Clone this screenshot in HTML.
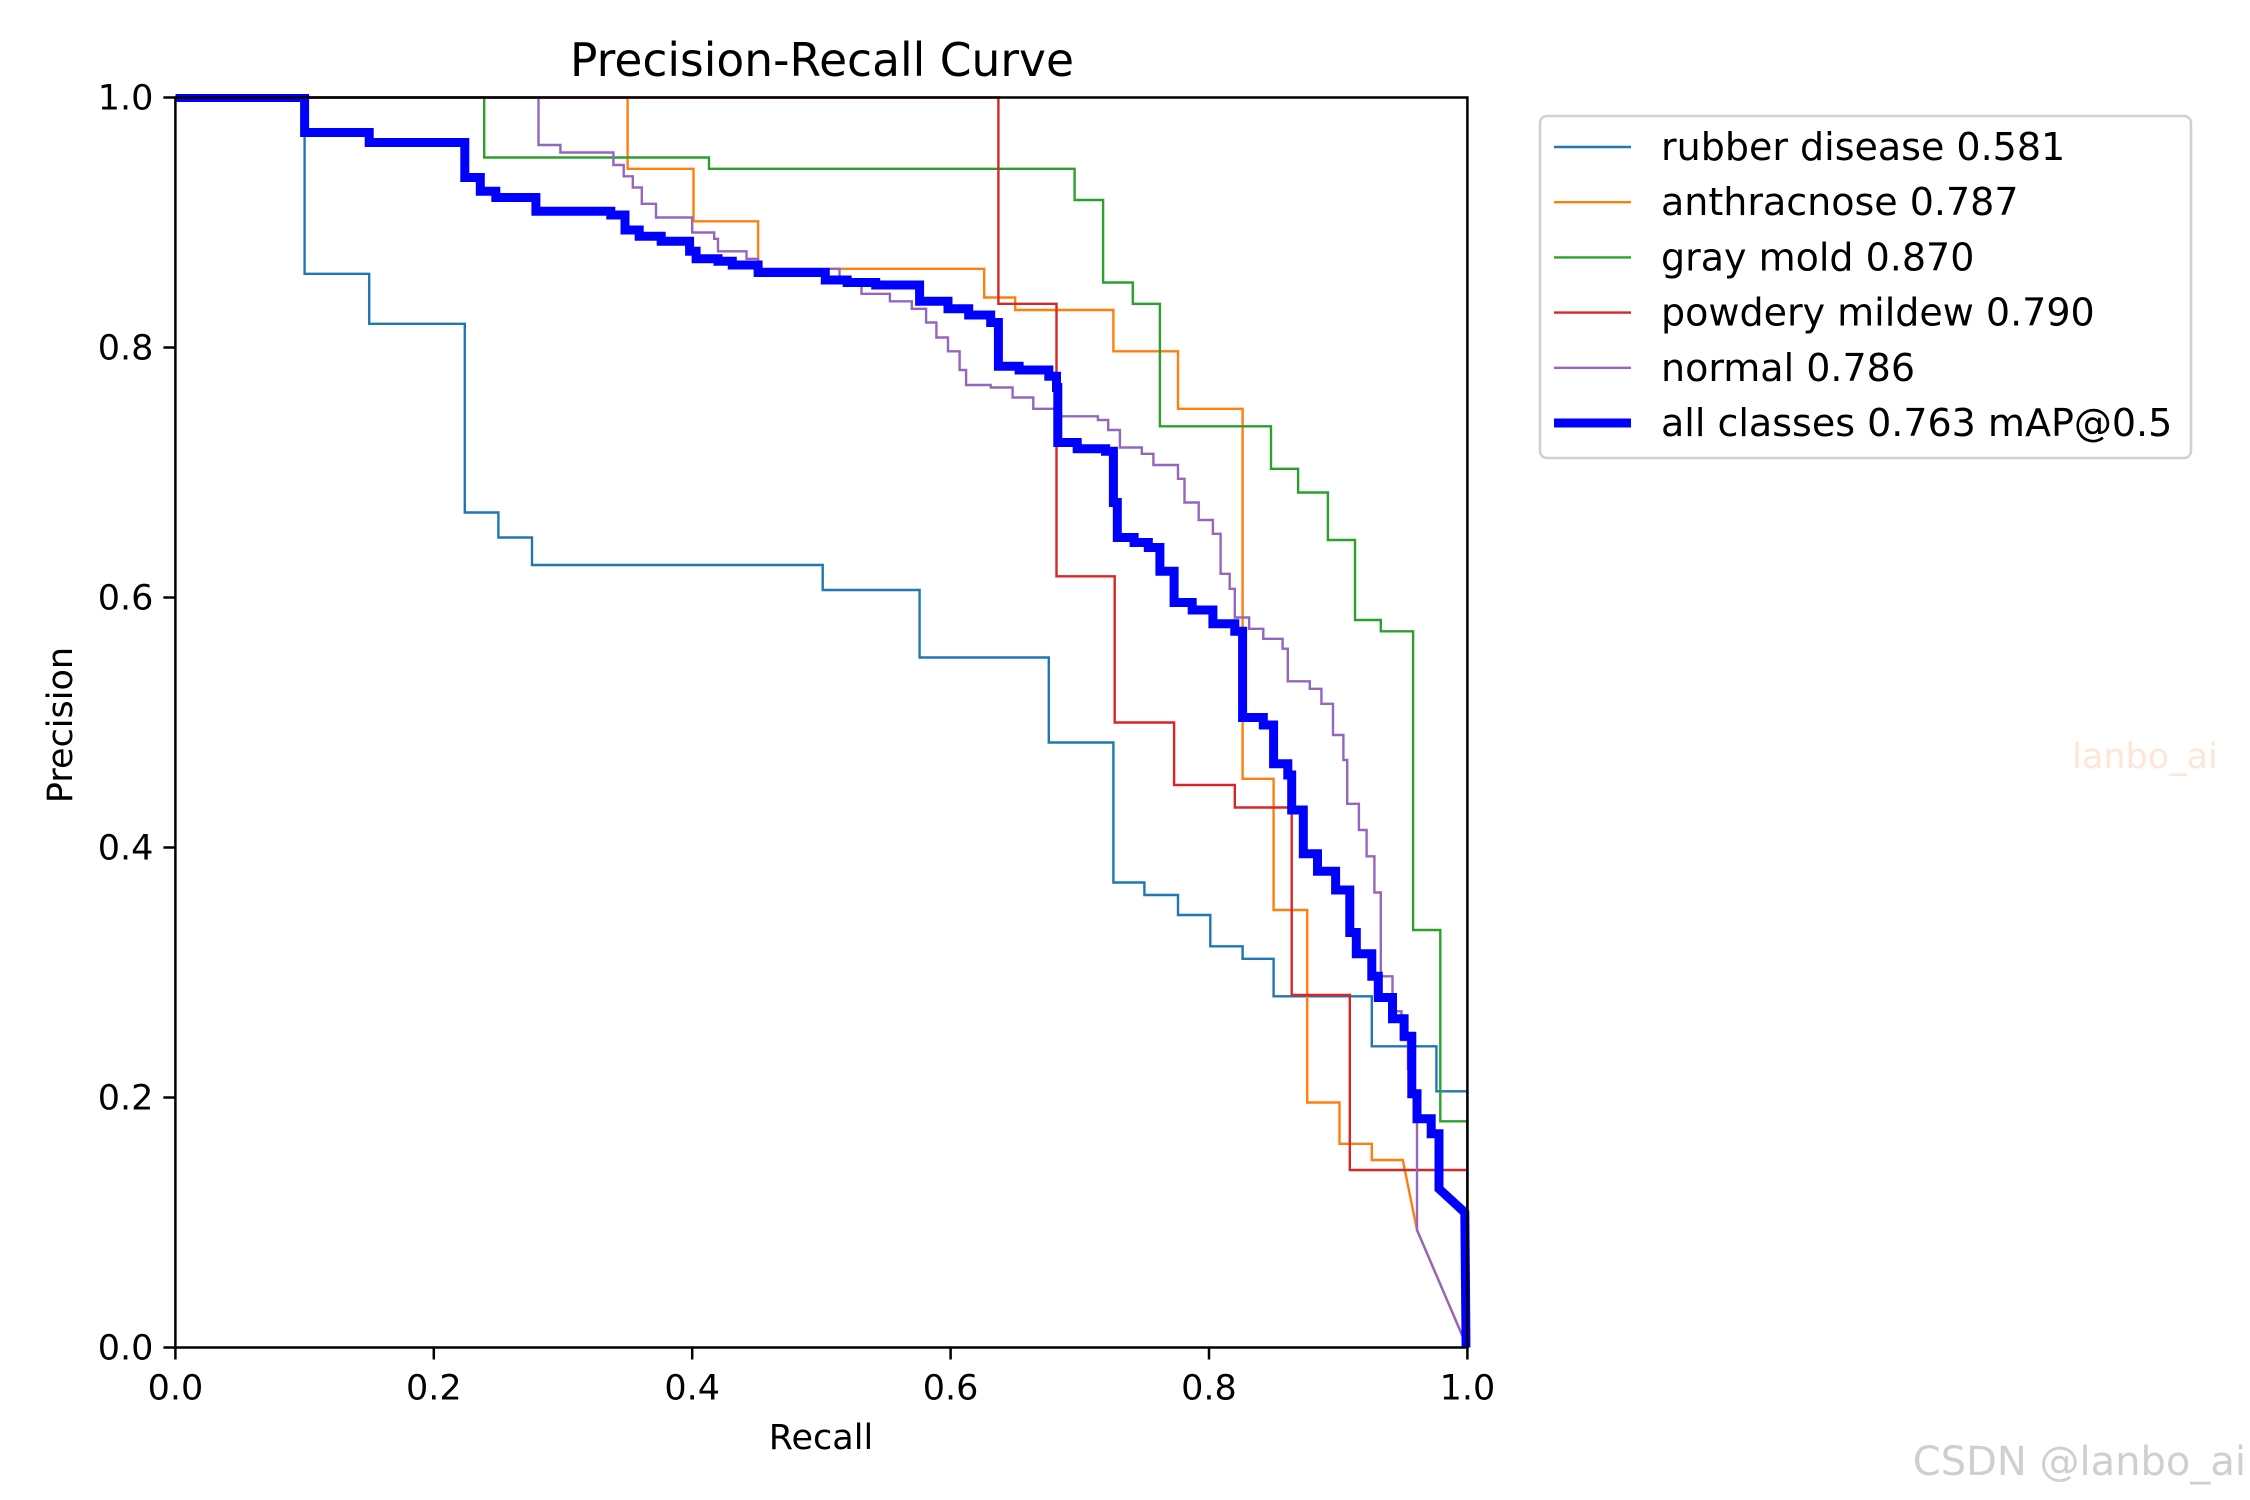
<!DOCTYPE html>
<html><head><meta charset="utf-8"><style>
html,body{margin:0;padding:0;background:#fff;}
svg{display:block;font-family:"DejaVu Sans","Liberation Sans",sans-serif;}
</style></head><body>
<svg id="chart" width="2250" height="1500" viewBox="0 0 2250 1500">
<defs><clipPath id="plotclip"><rect x="175.4" y="94" width="1295" height="1256"/></clipPath></defs>
<rect x="0" y="0" width="2250" height="1500" fill="#fff"/>
<text x="822" y="76" font-size="46" text-anchor="middle" textLength="504" lengthAdjust="spacingAndGlyphs">Precision-Recall Curve</text>
<g id="series" clip-path="url(#plotclip)"></g>
<rect x="175.4" y="97.5" width="1292" height="1250" fill="none" stroke="#000" stroke-width="2.5"/>
<g id="axes"></g>
<text x="821" y="1449" font-size="35" text-anchor="middle">Recall</text>
<text transform="translate(72,725) rotate(-90)" font-size="35" text-anchor="middle">Precision</text>
<g id="legend">
<rect x="1540" y="116" width="651" height="342" rx="7" fill="#fff" fill-opacity="0.8" stroke="#d0d0d0" stroke-width="2.5"/>
</g>
<text x="2145" y="768" font-size="35" text-anchor="middle" fill="#fde6d6">lanbo_ai</text>
<text x="2246" y="1475" font-size="40" text-anchor="end" fill="#cfcfcf">CSDN @lanbo_ai</text>
</svg>
<script>
const xTicks = [0, 0.2, 0.4, 0.6, 0.8, 1.0];
const yTicks = [0, 0.2, 0.4, 0.6, 0.8, 1.0];
const tickLabels = ["0.0", "0.2", "0.4", "0.6", "0.8", "1.0"];
const seriesNames = ["rubber disease 0.581", "anthracnose 0.787", "gray mold 0.870", "powdery mildew 0.790", "normal 0.786", "all classes 0.763 mAP@0.5"];
const seriesColors = ["#1f77b4", "#ff7f0e", "#2ca02c", "#d62728", "#9467bd", "#0000ff"];

const rubberRec = [0,0.1,0.15,0.224,0.25,0.276,0.501,0.576,0.676,0.726,0.75,0.776,0.801,0.826,0.85,0.926,0.976,1.0];
const rubberPrec = [1,0.859,0.819,0.668,0.648,0.626,0.606,0.552,0.484,0.372,0.362,0.346,0.321,0.311,0.281,0.241,0.205,0];
const anthRec = [0,0.35,0.401,0.451,0.626,0.65,0.726,0.776,0.826,0.85,0.876,0.901,0.926,0.95];
const anthPrec = [1,0.943,0.901,0.863,0.840,0.830,0.797,0.751,0.455,0.350,0.196,0.163,0.150,0.150];
const anthTailRec = [0.961, 1.0];
const anthTailPrec = [0.094, 0.0];
const grayRec = [0,0.239,0.413,0.696,0.718,0.741,0.762,0.848,0.869,0.892,0.913,0.933,0.958,0.979,1.0];
const grayPrec = [1,0.952,0.943,0.918,0.852,0.835,0.737,0.703,0.684,0.646,0.582,0.573,0.334,0.181,0];
const powRec = [0,0.637,0.682,0.727,0.773,0.82,0.864,0.909,1.0];
const powPrec = [1,0.835,0.617,0.5,0.45,0.432,0.282,0.142,0];
const normRec = [0,0.281,0.298,0.339,0.347,0.354,0.361,0.372,0.4,0.417,0.42,0.442,0.451,0.514,0.531,0.553,0.57,0.581,0.589,0.598,0.607,0.612,0.631,0.648,0.664,0.681,0.714,0.722,0.731,0.748,0.757,0.776,0.781,0.792,0.803,0.809,0.816,0.82,0.831,0.842,0.857,0.861,0.878,0.887,0.896,0.904,0.907,0.916,0.922,0.928,0.933,0.942,0.949,0.954,0.959,0.961];
const normPrec = [1,0.962,0.956,0.946,0.937,0.928,0.915,0.904,0.892,0.887,0.877,0.871,0.863,0.854,0.843,0.837,0.831,0.820,0.808,0.797,0.782,0.770,0.768,0.760,0.751,0.745,0.742,0.734,0.720,0.715,0.706,0.695,0.676,0.662,0.651,0.619,0.607,0.584,0.575,0.567,0.559,0.533,0.527,0.515,0.490,0.470,0.435,0.414,0.393,0.364,0.297,0.269,0.246,0.223,0.183,0.094];
const normTailRec = [1.0];
const normTailPrec = [0.0];
const allRec = [0,0.1,0.15,0.224,0.236,0.248,0.279,0.337,0.348,0.359,0.376,0.398,0.403,0.42,0.431,0.451,0.503,0.52,0.542,0.576,0.598,0.614,0.631,0.637,0.653,0.676,0.682,0.683,0.698,0.72,0.726,0.729,0.742,0.753,0.762,0.773,0.787,0.803,0.82,0.826,0.842,0.85,0.861,0.864,0.873,0.884,0.898,0.909,0.914,0.926,0.931,0.942,0.951,0.957,0.961,0.972,0.978];
const allPrec = [1,0.972,0.964,0.936,0.925,0.920,0.909,0.906,0.894,0.889,0.885,0.877,0.871,0.869,0.866,0.860,0.854,0.852,0.850,0.837,0.831,0.826,0.820,0.785,0.782,0.777,0.768,0.724,0.719,0.717,0.676,0.648,0.644,0.640,0.621,0.596,0.590,0.579,0.573,0.504,0.498,0.467,0.458,0.430,0.395,0.381,0.366,0.332,0.315,0.297,0.280,0.263,0.249,0.203,0.183,0.171,0.127];
const allTailRec = [0.998, 0.999];
const allTailPrec = [0.108, 0.0];

const NS = "http://www.w3.org/2000/svg";
const X0 = 175.4, XW = 1292, Y0 = 1347.5, YH = 1250;
function xS(r){ return X0 + r * XW; }
function yS(p){ return Y0 - p * YH; }

function stepPath(rec, prec, tr, tp){
  let d = "M" + xS(rec[0]).toFixed(1) + "," + yS(prec[0]).toFixed(1);
  for (let i = 1; i < rec.length; i++){
    d += " H" + xS(rec[i]).toFixed(1) + " V" + yS(prec[i]).toFixed(1);
  }
  if (tr) for (let j = 0; j < tr.length; j++){
    d += " L" + xS(tr[j]).toFixed(1) + "," + yS(tp[j]).toFixed(1);
  }
  return d;
}

const sg = document.getElementById("series");
const defs = [
  [rubberRec, rubberPrec, null, null, "rubber-disease-curve"],
  [anthRec, anthPrec, anthTailRec, anthTailPrec, "anthracnose-curve"],
  [grayRec, grayPrec, null, null, "gray-mold-curve"],
  [powRec, powPrec, null, null, "powdery-mildew-curve"],
  [normRec, normPrec, normTailRec, normTailPrec, "normal-curve"],
  [allRec, allPrec, allTailRec, allTailPrec, "all-classes-curve"]
];
defs.forEach(function(s, i){
  const p = document.createElementNS(NS, "path");
  p.setAttribute("d", stepPath(s[0], s[1], s[2], s[3]));
  p.setAttribute("fill", "none");
  p.setAttribute("stroke", seriesColors[i]);
  p.setAttribute("stroke-width", i === 5 ? 9 : 2.4);
  p.setAttribute("stroke-linejoin", "miter");
  
  
  sg.appendChild(p);
});

const ax = document.getElementById("axes");
xTicks.forEach(function(v, i){
  const l = document.createElementNS(NS, "line");
  l.setAttribute("x1", xS(v)); l.setAttribute("x2", xS(v));
  l.setAttribute("y1", Y0); l.setAttribute("y2", Y0 + 12);
  l.setAttribute("stroke", "#000"); l.setAttribute("stroke-width", 2.5);
  
  
  ax.appendChild(l);
  const t = document.createElementNS(NS, "text");
  t.setAttribute("x", xS(v)); t.setAttribute("y", Y0 + 52);
  t.setAttribute("font-size", "35"); t.setAttribute("text-anchor", "middle");
  t.textContent = tickLabels[i];
  
  
  ax.appendChild(t);
});
yTicks.forEach(function(v, i){
  const l = document.createElementNS(NS, "line");
  l.setAttribute("x1", X0 - 12); l.setAttribute("x2", X0);
  l.setAttribute("y1", yS(v)); l.setAttribute("y2", yS(v));
  l.setAttribute("stroke", "#000"); l.setAttribute("stroke-width", 2.5);
  
  
  ax.appendChild(l);
  const t = document.createElementNS(NS, "text");
  t.setAttribute("x", X0 - 22); t.setAttribute("y", yS(v) + 12);
  t.setAttribute("font-size", "35"); t.setAttribute("text-anchor", "end");
  t.textContent = tickLabels[i];
  
  
  ax.appendChild(t);
});

const lg = document.getElementById("legend");
seriesNames.forEach(function(n, i){
  const y = 147 + i * 55.2;
  const l = document.createElementNS(NS, "line");
  l.setAttribute("x1", 1554); l.setAttribute("x2", 1631);
  l.setAttribute("y1", y); l.setAttribute("y2", y);
  l.setAttribute("stroke", seriesColors[i]);
  l.setAttribute("stroke-width", i === 5 ? 9 : 2.4);
  
  
  lg.appendChild(l);
  const t = document.createElementNS(NS, "text");
  t.setAttribute("x", 1661); t.setAttribute("y", y + 13);
  t.setAttribute("font-size", "38");
  t.textContent = n;
  
  
  lg.appendChild(t);
});
</script>
</body></html>
